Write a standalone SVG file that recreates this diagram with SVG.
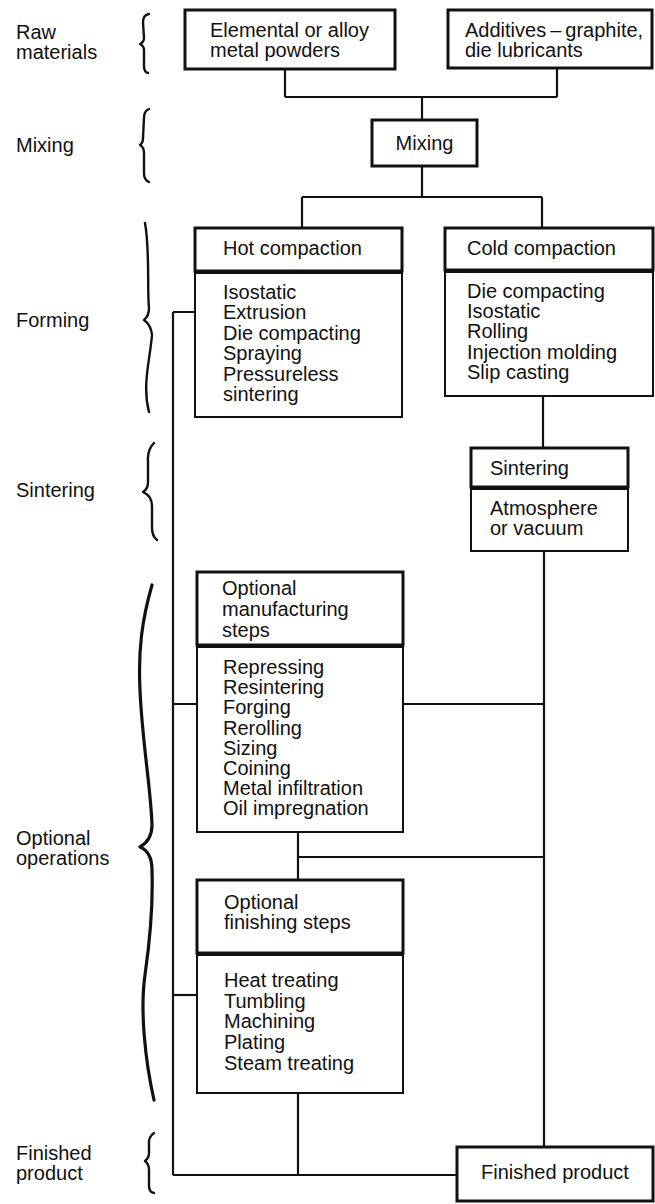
<svg xmlns="http://www.w3.org/2000/svg" width="655" height="1204" viewBox="0 0 655 1204">
<style>
text{font-family:"Liberation Sans",Arial,Helvetica,sans-serif;font-size:20px;fill:#111}
.bx{fill:#fff;stroke:#111;stroke-width:3}
.bd{fill:#fff;stroke:#111;stroke-width:2}
.cn{fill:none;stroke:#111;stroke-width:2.2}
.br{fill:none;stroke:#111;stroke-width:2.4;stroke-linecap:round;stroke-linejoin:round}
</style>
<rect width="655" height="1204" fill="#fff"/>
<g id="stage-labels">
<text x="16" y="39">Raw</text><text x="16" y="59">materials</text>
<text x="16" y="152">Mixing</text>
<text x="16" y="327">Forming</text>
<text x="16" y="497">Sintering</text>
<text x="16" y="845">Optional</text><text x="16" y="865">operations</text>
<text x="16" y="1160">Finished</text><text x="16" y="1180">product</text>
</g>
<g id="braces">
<path class="br" d="M149,14 Q143,15 143,22 L144,38 Q144,42 140,44 Q144,46 144,50 L144,66 Q144,72 148,73"/>
<path class="br" d="M149,109 Q144,111 144,118 L143,138 Q143,143 140,145 Q144,147 144,153 L144,173 Q144,180 149,182"/>
<path class="br" d="M145,223 C150,250 147,290 149,308 Q149,316 144,320 Q151,325 152,335 C150,360 142,385 149,412"/>
<path class="br" d="M154,443 Q147,450 148,462 L148,482 Q148,489 143,492 Q152,496 152,506 L152,528 Q152,536 157,540"/>
<path class="br" style="stroke-width:3.2" d="M152,585 C142,620 138,650 140,690 C142,740 151,790 152,825 Q152,840 140,847 Q152,852 152,870 C153,900 150,940 145,975 C140,1010 145,1060 154,1100"/>
<path class="br" d="M154,1133 Q148,1137 149,1145 L149,1153 Q149,1158 145,1161 Q149,1164 149,1170 L149,1186 Q149,1192 154,1193"/>
</g>
<g id="connectors">
<path class="cn" d="M285,69 V97 M557,68 V97 M285,97 H557 M422,97 V120"/>
<path class="cn" d="M422,166 V197 M302,197 H542 M302,197 V228 M542,197 V228"/>
<path class="cn" d="M173,312 H195 M173,312 V1175"/>
<path class="cn" d="M543,396 V448 M544,551 V1147"/>
<path class="cn" d="M173,704 H197 M403,704 H544"/>
<path class="cn" d="M298,832 V880 M298,857 H544"/>
<path class="cn" d="M173,995 H197"/>
<path class="cn" d="M298,1093 V1175 M173,1175 H457"/>
</g>
<g id="node-metal-powders">
<rect class="bx" x="185" y="10" width="210" height="59"/>
<text x="210" y="37">Elemental or alloy</text><text x="210" y="57">metal powders</text>
</g>
<g id="node-additives">
<rect class="bx" x="448" y="10" width="204" height="58"/>
<text x="465" y="37">Additives<tspan dx="4">–</tspan><tspan dx="4">graphite,</tspan></text><text x="465" y="57">die lubricants</text>
</g>
<g id="node-mixing">
<rect class="bx" x="372" y="120" width="105" height="46"/>
<text x="424.5" y="150" text-anchor="middle">Mixing</text>
</g>
<g id="node-hot-compaction">
<rect class="bd" x="195" y="273" width="207" height="144"/>
<rect class="bx" x="195" y="228" width="207" height="43"/>
<text x="223" y="255">Hot compaction</text>
<text x="223" y="299">Isostatic</text>
<text x="223" y="319">Extrusion</text>
<text x="223" y="340">Die compacting</text>
<text x="223" y="360">Spraying</text>
<text x="223" y="381">Pressureless</text>
<text x="223" y="401">sintering</text>
</g>
<g id="node-cold-compaction">
<rect class="bd" x="445" y="272" width="208" height="124"/>
<rect class="bx" x="445" y="228" width="208" height="42"/>
<text x="467" y="255">Cold compaction</text>
<text x="467" y="298">Die compacting</text>
<text x="467" y="318">Isostatic</text>
<text x="467" y="338">Rolling</text>
<text x="467" y="359">Injection molding</text>
<text x="467" y="379">Slip casting</text>
</g>
<g id="node-sintering">
<rect class="bd" x="471" y="489" width="157" height="62"/>
<rect class="bx" x="471" y="448" width="157" height="39"/>
<text x="490" y="475">Sintering</text>
<text x="490" y="515">Atmosphere</text>
<text x="490" y="535">or vacuum</text>
</g>
<g id="node-optional-manufacturing">
<rect class="bd" x="197" y="647" width="206" height="185"/>
<rect class="bx" x="197" y="572" width="206" height="73"/>
<text x="222" y="595">Optional</text>
<text x="222" y="616">manufacturing</text>
<text x="222" y="637">steps</text>
<text x="223" y="674">Repressing</text>
<text x="223" y="694">Resintering</text>
<text x="223" y="714">Forging</text>
<text x="223" y="735">Rerolling</text>
<text x="223" y="755">Sizing</text>
<text x="223" y="775">Coining</text>
<text x="223" y="795">Metal infiltration</text>
<text x="223" y="815">Oil impregnation</text>
</g>
<g id="node-optional-finishing">
<rect class="bd" x="197" y="955" width="206" height="138"/>
<rect class="bx" x="197" y="880" width="206" height="73"/>
<text x="224" y="909">Optional</text>
<text x="224" y="929">finishing steps</text>
<text x="224" y="987">Heat treating</text>
<text x="224" y="1008">Tumbling</text>
<text x="224" y="1028">Machining</text>
<text x="224" y="1049">Plating</text>
<text x="224" y="1070">Steam treating</text>
</g>
<g id="node-finished-product">
<rect class="bx" x="457" y="1147" width="196" height="54"/>
<text x="481" y="1179">Finished product</text>
</g>
</svg>
